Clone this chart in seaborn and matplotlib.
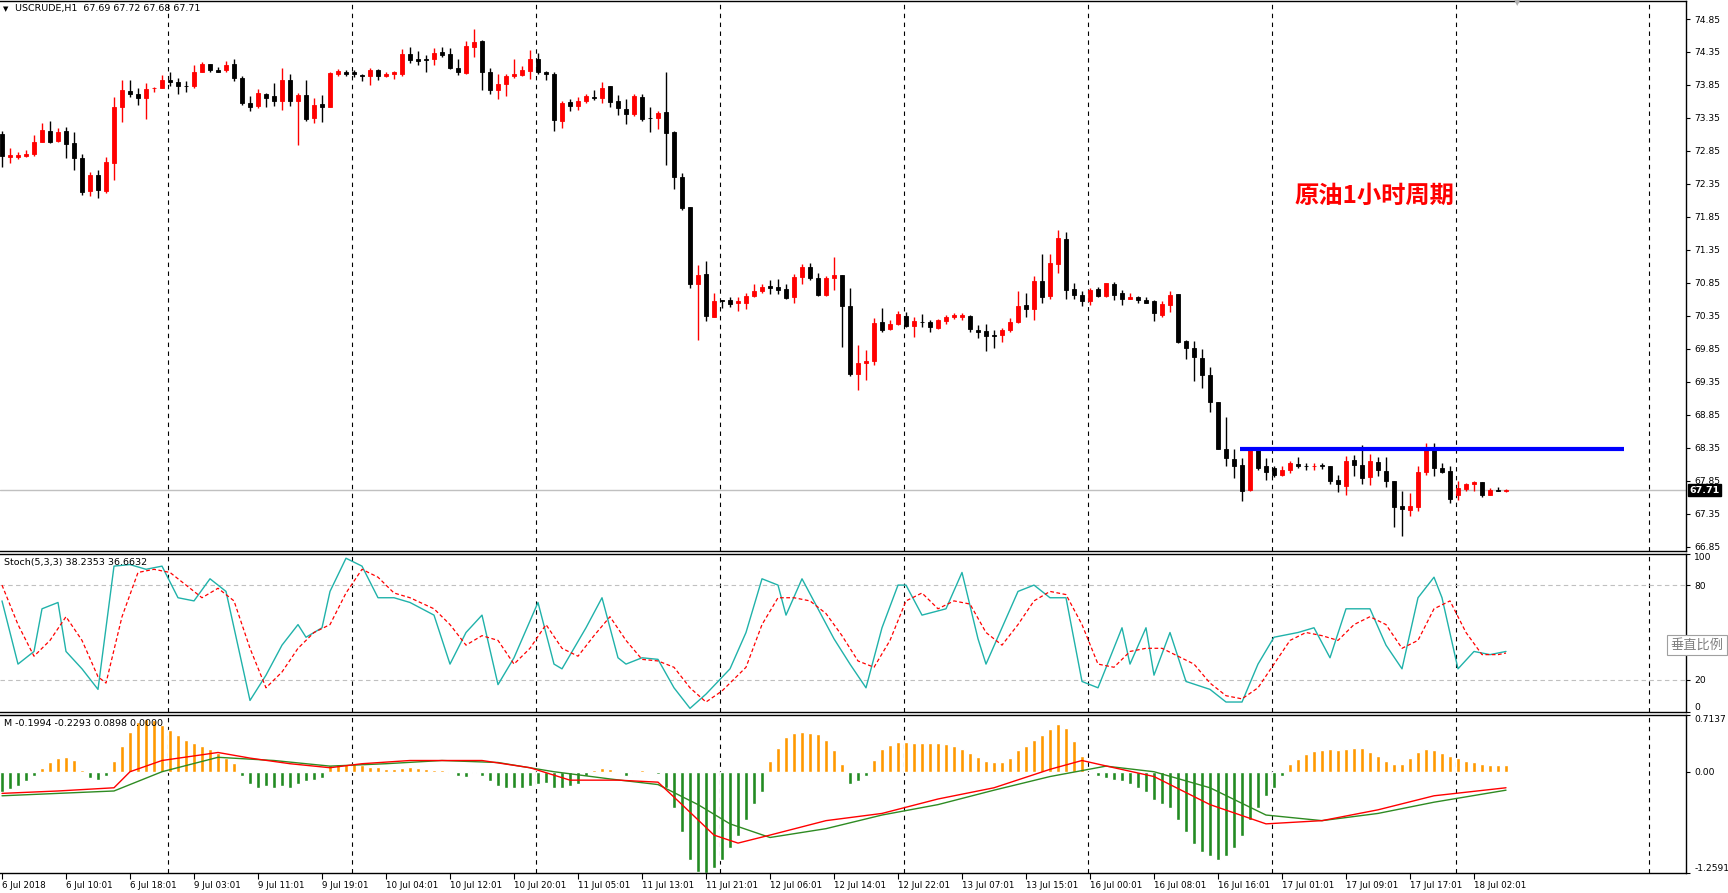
import numpy as np
import pandas as pd
import matplotlib
matplotlib.use("Agg")
import matplotlib.pyplot as plt
import seaborn as sns

# USCRUDE H1 candles, bar 0 = 6 Jul 2018 02:01 (one bar per hour)
opens = [73.10, 72.76, 72.76, 72.78, 72.80, 72.99, 73.15, 73.00, 73.15, 72.97,
         72.74, 72.24, 72.49, 72.24, 72.66, 73.51, 73.76, 73.71, 73.66, 73.80,
         73.81, 73.92, 73.90, 73.84, 73.83, 74.05, 74.17, 74.08, 74.07, 74.17,
         73.95, 73.57, 73.53, 73.71, 73.68, 73.61, 73.925, 73.60, 73.70, 73.35,
         73.56, 73.52, 74.01, 74.05, 74.04, 74.00, 73.98, 74.08, 73.98, 74.01,
         74.01, 74.32, 74.25, 74.24, 74.24, 74.35, 74.32, 74.10, 74.03, 74.43,
         74.52, 74.05, 73.77, 73.865, 73.98, 74.00, 74.06, 74.25, 74.05, 74.02,
         73.31, 73.59, 73.53, 73.60, 73.67, 73.66, 73.835, 73.61, 73.49, 73.41,
         73.67, 73.355, 73.35, 73.44, 73.14, 72.45, 71.996, 70.83, 70.98, 70.34,
         70.59, 70.59, 70.54, 70.55, 70.65, 70.73, 70.80, 70.79, 70.76, 70.64,
         70.94, 71.09, 70.93, 70.66, 70.93, 70.97, 70.50, 69.47, 69.64, 69.67,
         70.26, 70.15, 70.23, 70.35, 70.20, 70.26, 70.26, 70.17, 70.28, 70.34,
         70.335, 70.35, 70.14, 70.12, 70.06, 70.06, 70.13, 70.25, 70.51, 70.46,
         70.88, 70.65, 71.14, 71.51, 70.76, 70.67, 70.57, 70.76, 70.65, 70.83,
         70.69, 70.61, 70.64, 70.59, 70.58, 70.37, 70.52, 70.68, 69.97, 69.86,
         69.71, 69.46, 69.04, 68.34, 68.18, 68.09, 67.71, 68.34, 68.08, 68.05,
         67.94, 68.02, 68.11, 68.08, 68.07, 68.09, 68.08, 67.865, 67.775, 68.17,
         68.09, 67.915, 68.13, 68.00, 67.85, 67.47, 67.41, 67.46, 67.98, 68.355,
         68.05, 68.00, 67.64, 67.73, 67.795, 67.835, 67.64, 67.71, 67.69]
highs = [73.15, 72.89, 72.84, 72.87, 73.09, 73.27, 73.30, 73.20, 73.22, 73.13,
         72.81, 72.53, 72.56, 72.76, 73.67, 73.925, 73.92, 73.81, 73.88, 73.82,
         74.00, 74.04, 73.95, 73.91, 74.15, 74.20, 74.17, 74.13, 74.21, 74.24,
         73.98, 73.68, 73.79, 73.73, 73.88, 74.10, 74.02, 73.73, 73.925, 73.66,
         73.70, 74.05, 74.09, 74.08, 74.07, 74.02, 74.10, 74.09, 74.05, 74.06,
         74.40, 74.43, 74.365, 74.31, 74.41, 74.43, 74.41, 74.25, 74.52, 74.70,
         74.53, 74.10, 74.02, 74.02, 74.24, 74.14, 74.38, 74.33, 74.06, 74.04,
         73.60, 73.63, 73.67, 73.72, 73.77, 73.90, 73.835, 73.70, 73.63, 73.72,
         73.72, 73.51, 73.45, 74.05, 73.15, 72.52, 72.00, 71.12, 71.18, 70.70,
         70.59, 70.63, 70.64, 70.70, 70.835, 70.835, 70.90, 70.91, 70.835, 70.99,
         71.13, 71.15, 71.00, 70.96, 71.24, 70.97, 70.775, 69.91, 69.835, 70.32,
         70.47, 70.285, 70.42, 70.41, 70.34, 70.375, 70.295, 70.305, 70.37, 70.40,
         70.40, 70.37, 70.21, 70.23, 70.13, 70.17, 70.32, 70.73, 70.70, 70.95,
         71.29, 71.29, 71.65, 71.62, 70.85, 70.72, 70.77, 70.79, 70.855, 70.87,
         70.75, 70.69, 70.65, 70.63, 70.59, 70.58, 70.73, 70.68, 69.98, 69.97,
         69.85, 69.57, 69.05, 68.82, 68.33, 68.19, 68.345, 68.355, 68.19, 68.07,
         68.08, 68.15, 68.21, 68.12, 68.12, 68.12, 68.08, 67.94, 68.22, 68.24,
         68.39, 68.255, 68.21, 68.21, 67.85, 67.70, 67.66, 68.08, 68.42, 68.42,
         68.12, 68.07, 67.855, 67.815, 67.85, 67.835, 67.74, 67.76, 67.72]
lows = [72.61, 72.67, 72.73, 72.76, 72.77, 72.98, 72.97, 72.98, 72.75, 72.56,
        72.18, 72.16, 72.13, 72.21, 72.41, 73.29, 73.67, 73.55, 73.33, 73.75,
        73.80, 73.83, 73.71, 73.75, 73.81, 74.04, 74.04, 74.04, 74.04, 73.91,
        73.54, 73.45, 73.50, 73.52, 73.53, 73.47, 73.53, 72.94, 73.31, 73.28,
        73.29, 73.51, 73.99, 73.98, 73.97, 73.91, 73.85, 73.92, 73.97, 73.94,
        73.99, 74.19, 74.15, 74.05, 74.15, 74.27, 74.09, 74.00, 74.02, 74.28,
        73.77, 73.71, 73.64, 73.69, 73.95, 73.99, 73.94, 74.02, 73.93, 73.16,
        73.20, 73.46, 73.47, 73.57, 73.62, 73.57, 73.51, 73.40, 73.26, 73.38,
        73.30, 73.13, 73.18, 72.63, 72.28, 71.95, 70.78, 69.99, 70.28, 70.34,
        70.47, 70.49, 70.43, 70.46, 70.63, 70.70, 70.68, 70.68, 70.61, 70.54,
        70.835, 70.90, 70.65, 70.655, 70.745, 69.885, 69.44, 69.23, 69.38, 69.60,
        70.11, 70.13, 70.21, 70.18, 70.03, 70.18, 70.11, 70.15, 70.22, 70.30,
        70.29, 70.10, 70.02, 69.82, 69.87, 69.96, 70.11, 70.24, 70.335, 70.29,
        70.54, 70.60, 70.995, 70.61, 70.61, 70.50, 70.51, 70.64, 70.64, 70.59,
        70.52, 70.60, 70.55, 70.54, 70.275, 70.33, 70.41, 69.94, 69.70, 69.365,
        69.25, 68.89, 68.325, 68.08, 67.90, 67.55, 67.70, 68.01, 67.866, 67.915,
        67.93, 67.97, 68.04, 68.02, 68.01, 68.03, 67.805, 67.68, 67.63, 67.92,
        67.80, 67.79, 67.925, 67.755, 67.15, 67.01, 67.31, 67.40, 67.94, 67.93,
        67.97, 67.52, 67.56, 67.69, 67.70, 67.61, 67.64, 67.69, 67.68]
closes = [72.78, 72.79, 72.79, 72.80, 72.98, 73.17, 72.99, 73.14, 72.95, 72.75,
          72.23, 72.48, 72.26, 72.68, 73.52, 73.77, 73.72, 73.66, 73.79, 73.81,
          73.93, 73.90, 73.83, 73.83, 74.05, 74.17, 74.07, 74.05, 74.15, 73.96,
          73.58, 73.52, 73.73, 73.66, 73.60, 73.925, 73.60, 73.70, 73.34, 73.54,
          73.51, 74.03, 74.06, 74.01, 74.02, 73.99, 74.08, 73.98, 74.02, 74.04,
          74.32, 74.23, 74.21, 74.23, 74.33, 74.31, 74.10, 74.05, 74.44, 74.50,
          74.05, 73.77, 73.865, 73.99, 74.02, 74.08, 74.24, 74.04, 74.01, 73.325,
          73.577, 73.53, 73.60, 73.69, 73.66, 73.81, 73.59, 73.50, 73.41, 73.68,
          73.33, 73.345, 73.43, 73.12, 72.45, 71.99, 70.84, 70.97, 70.355, 70.58,
          70.58, 70.53, 70.57, 70.65, 70.73, 70.79, 70.78, 70.75, 70.62, 70.94,
          71.09, 70.92, 70.67, 70.93, 70.97, 70.50, 69.47, 69.64, 69.67, 70.245,
          70.14, 70.23, 70.38, 70.19, 70.275, 70.25, 70.18, 70.29, 70.335, 70.365,
          70.365, 70.15, 70.10, 70.04, 70.05, 70.13, 70.25, 70.50, 70.45, 70.88,
          70.64, 71.15, 71.53, 70.75, 70.67, 70.58, 70.74, 70.65, 70.845, 70.66,
          70.61, 70.64, 70.59, 70.55, 70.39, 70.53, 70.67, 69.96, 69.87, 69.72,
          69.46, 69.04, 68.34, 68.19, 68.07, 67.70, 68.33, 68.05, 67.98, 67.94,
          68.02, 68.12, 68.07, 68.07, 68.08, 68.07, 67.855, 67.795, 68.15, 68.09,
          67.90, 68.15, 68.01, 67.855, 67.46, 67.43, 67.47, 67.98, 68.355, 68.04,
          67.98, 67.58, 67.74, 67.805, 67.835, 67.64, 67.71, 67.69, 67.71]

# time axis labels, one every 8 bars
time_labels = ["6 Jul 2018", "6 Jul 10:01", "6 Jul 18:01", "9 Jul 03:01", "9 Jul 11:01",
               "9 Jul 19:01", "10 Jul 04:01", "10 Jul 12:01", "10 Jul 20:01", "11 Jul 05:01",
               "11 Jul 13:01", "11 Jul 21:01", "12 Jul 06:01", "12 Jul 14:01", "12 Jul 22:01",
               "13 Jul 07:01", "13 Jul 15:01", "16 Jul 00:01", "16 Jul 08:01", "16 Jul 16:01",
               "17 Jul 01:01", "17 Jul 09:01", "17 Jul 17:01", "18 Jul 02:01"]
price_ticks = [74.85, 74.35, 73.85, 73.35, 72.85, 72.35, 71.85, 71.35, 70.85,
               70.35, 69.85, 69.35, 68.85, 68.35, 67.85, 67.35, 66.85]
last_price = 67.71
resistance = 68.34
resistance_from, resistance_to = 154.75, 202.75

# Stoch(5,3,3): bar, %K / bar, %D
k_bar = [0, 2, 4, 5, 7, 8, 10, 12, 14, 16, 18, 20, 22, 24, 26, 28, 31, 33, 35, 37,
         38, 40, 41, 43, 45, 47, 49, 51, 54, 56, 58, 60, 62, 64, 67, 69, 70, 73, 75, 77,
         78, 80, 82, 84, 86, 88, 91, 93, 95, 97, 98, 100, 102, 104, 106, 108, 110, 112, 113, 115,
         118, 120, 122, 123, 125, 127, 129, 131, 133, 135, 137, 140, 141, 143, 144, 146, 148, 151, 153, 155,
         157, 159, 162, 164, 166, 168, 171, 173, 175, 177, 179, 180, 182, 184, 186, 188]
k_val = [70, 30, 38, 65, 69, 38, 27, 14, 92, 93, 90, 92, 72, 70, 84, 76, 7, 23, 42, 55,
         47, 53, 76, 97, 92, 72, 72, 69, 61, 30, 50, 61, 17, 34, 69, 30, 27, 53, 72, 34,
         30, 34, 33, 15, 2, 11, 27, 50, 84, 80, 61, 84, 65, 46, 30, 15, 53, 80, 80, 61,
         65, 88, 46, 30, 53, 76, 80, 72, 72, 19, 15, 53, 30, 53, 23, 50, 19, 14, 6, 6,
         30, 47, 50, 53, 34, 65, 65, 42, 27, 72, 85, 72, 27, 38, 36, 38]
d_bar = [0, 2, 4, 6, 8, 10, 12, 13, 15, 17, 19, 21, 23, 25, 27, 29, 31, 33, 35, 37,
         39, 41, 43, 45, 47, 49, 51, 54, 56, 58, 60, 62, 64, 66, 68, 70, 72, 74, 76, 78,
         80, 82, 84, 86, 88, 90, 93, 95, 97, 99, 101, 103, 105, 107, 109, 111, 113, 115, 117, 119,
         121, 123, 125, 127, 129, 131, 133, 135, 137, 139, 141, 143, 145, 147, 149, 151, 153, 155, 157, 159,
         161, 163, 165, 167, 169, 171, 173, 175, 177, 179, 181, 183, 185, 187, 188]
d_val = [80, 55, 35, 45, 60, 45, 22, 18, 60, 88, 90, 88, 80, 72, 78, 70, 40, 15, 25, 40,
         50, 55, 75, 90, 85, 75, 72, 65, 55, 42, 48, 45, 30, 40, 55, 40, 35, 48, 60, 45,
         33, 32, 28, 15, 6, 13, 28, 55, 72, 72, 70, 62, 48, 32, 28, 45, 70, 75, 65, 70,
         68, 50, 42, 55, 70, 76, 74, 55, 30, 28, 38, 40, 40, 35, 30, 18, 10, 8, 15, 30,
         45, 50, 48, 45, 55, 60, 55, 40, 45, 65, 70, 50, 36, 36, 37]

# MACD-type panel: histogram per bar, main (red) and signal (green) lines
hist = [-0.25, -0.22, -0.18, -0.12, -0.05,
        0.05, 0.12, 0.17, 0.18, 0.15,
        0.02, -0.08, -0.1, -0.05,
        0.13, 0.32, 0.5, 0.62, 0.66, 0.64, 0.58,
        0.52, 0.46, 0.4, 0.36, 0.32, 0.28, 0.23, 0.17, 0.11,
        -0.05, -0.15, -0.2, -0.18, -0.2, -0.18, -0.2, -0.15, -0.12, -0.1, -0.08,
        0.08, 0.1, 0.1, 0.1, 0.08, 0.06, 0.06, 0.04, 0.04, 0.05, 0.06, 0.05, 0.03, 0.02, 0.02, -0.01,
        -0.05, -0.06, -0.02, -0.05, -0.12, -0.18, -0.2, -0.2, -0.2, -0.18, -0.15, -0.14, -0.2, -0.2, -0.18, -0.15,
        -0.05, 0.02, 0.05, 0.03, -0.02, -0.05, -0.02, 0.02, 0.0, -0.03,
        -0.2, -0.45, -0.75, -1.1, -1.25, -1.26, -1.2, -1.1, -0.95, -0.8, -0.6, -0.4, -0.25,
        0.13, 0.3, 0.43, 0.48, 0.5, 0.48, 0.47, 0.4, 0.27, 0.1,
        -0.15, -0.12, -0.05,
        0.15, 0.28, 0.33, 0.37, 0.37, 0.36, 0.36, 0.36, 0.36, 0.35, 0.32, 0.28, 0.23, 0.18, 0.14, 0.12,
        0.12, 0.17, 0.27, 0.32, 0.4, 0.46, 0.53, 0.6, 0.55, 0.38, 0.2,
        -0.02, -0.05, -0.08, -0.1, -0.12, -0.15, -0.2, -0.25, -0.35, -0.4, -0.45, -0.6, -0.75,
        -0.9, -1.0, -1.05, -1.1, -1.05, -0.95, -0.8, -0.6, -0.45, -0.3, -0.2, -0.05,
        0.1, 0.16, 0.22, 0.26, 0.27, 0.28, 0.27, 0.28, 0.3, 0.29, 0.25, 0.2, 0.14, 0.1,
        0.1, 0.17, 0.25, 0.28, 0.27, 0.23, 0.19, 0.17, 0.14, 0.12, 0.1, 0.09, 0.09, 0.09]
main_bar = [0, 7, 14, 16, 20, 27, 31, 36, 41, 45, 51, 56, 60, 66, 71, 77, 82, 85, 89, 92,
            96, 103, 110, 117, 124, 131, 135, 139, 144, 151, 158, 165, 172, 179, 188]
main_val = [-0.27, -0.24, -0.20, 0.0, 0.14, 0.24, 0.17, 0.10, 0.05, 0.10, 0.14, 0.14, 0.14, 0.05,
            -0.105, -0.105, -0.13, -0.41, -0.79, -0.89, -0.79, -0.61, -0.52, -0.34, -0.20, 0.03,
            0.14, 0.05, -0.06, -0.41, -0.65, -0.61, -0.475, -0.30, -0.20]
sig_bar = [0, 7, 14, 20, 27, 34, 41, 48, 55, 62, 69, 76, 82, 87, 91, 96, 103, 110, 117, 124,
           131, 138, 144, 151, 158, 165, 172, 179, 188]
sig_val = [-0.30, -0.27, -0.24, 0.0, 0.18, 0.14, 0.07, 0.10, 0.14, 0.115, 0.0, -0.09, -0.16, -0.41,
           -0.65, -0.82, -0.71, -0.54, -0.41, -0.23, -0.06, 0.07, 0.0, -0.20, -0.54, -0.61, -0.52,
           -0.38, -0.23]

sns.set_theme(style="white")
plt.rcParams['font.family'] = ['DejaVu Sans', 'Noto Sans CJK SC']
plt.rcParams['axes.linewidth'] = 1.0

W, H = 1728, 893
fig = plt.figure(figsize=(W / 100, H / 100), dpi=100, facecolor="white")


def box(top, bottom):
    return [0, 1 - bottom / H, 1686 / W, (bottom - top) / H]


ax = fig.add_axes(box(1, 550.5))
ax_st = fig.add_axes(box(553.5, 711.5), sharex=ax)
ax_m = fig.add_axes(box(714.5, 872.7), sharex=ax)

df = pd.DataFrame({"o": opens, "h": highs, "l": lows, "c": closes})
df["bar"] = np.arange(len(df))
df["up"] = df["c"] >= df["o"]
col = np.where(df["up"], "#FF0000", "#000000")

# candles
ax.vlines(df["bar"], df["l"], df["h"], colors=col, linewidth=1.0, zorder=3)
body_lo = np.minimum(df["o"], df["c"])
body_h = np.abs(df["c"] - df["o"])
ax.bar(df["bar"], body_h, bottom=body_lo, width=0.62, color=col,
       edgecolor=col, linewidth=0.6, zorder=4)

ax.axhline(last_price, color="#C0C0C0", lw=1.0, zorder=1)
ax.hlines(resistance, resistance_from, resistance_to, color="#0000FF", lw=3.0, zorder=5)

ax.set_xlim(-0.25, 210.5)
ax.set_ylim(66.794, 75.123)

# vertical dashed grid (every 23 bars)
for g in [20.78, 43.8, 66.8, 89.8, 112.8, 135.8, 158.8, 181.8, 205.84]:
    for a in (ax, ax_st, ax_m):
        a.axvline(g, color="black", lw=0.8, ls=(0, (4, 4)), zorder=0)

# stochastic panel
sns.lineplot(x=k_bar, y=k_val, ax=ax_st, color="#20B2AA", lw=1.0, zorder=3)
sns.lineplot(x=d_bar, y=d_val, ax=ax_st, color="#FF0000", lw=0.9, zorder=4)
ax_st.lines[-1].set_linestyle((0, (3, 2)))
for lv in (80, 20):
    ax_st.axhline(lv, color="#C0C0C0", lw=0.8, ls=(0, (4, 3)), zorder=1)
ax_st.set_ylim(0, 100)

# MACD panel
hb = np.arange(len(hist))
hv = np.array(hist)
ax_m.bar(hb, hv, width=0.42, color=np.where(hv >= 0, "#FF9900", "#228B22"), zorder=2)
sns.lineplot(x=main_bar, y=main_val, ax=ax_m, color="#FF0000", lw=1.0, zorder=4)
sns.lineplot(x=sig_bar, y=sig_val, ax=ax_m, color="#2E8B22", lw=1.0, zorder=3)
ax_m.set_ylim(-1.2591, 0.7137)

for a in (ax, ax_st, ax_m):
    a.set_facecolor("white")
    a.spines["left"].set_visible(False)
    for s in ("top", "right", "bottom"):
        a.spines[s].set_color("black")
        a.spines[s].set_linewidth(1.0)
    a.set_xlabel("")
    a.set_ylabel("")
    a.yaxis.tick_right()
    a.tick_params(axis="y", direction="out", length=3, width=0.8, pad=3,
                  labelsize=6.6, colors="black")
    a.tick_params(axis="x", bottom=False, labelbottom=False)

ax.set_yticks(price_ticks)
ax.set_yticklabels([f"{v:.2f}" for v in price_ticks])

ax_st.set_yticks([100, 80, 20, 0])
ax_st.set_yticklabels(["100", "80", "20", "0"])
for t in ax_st.get_yticklabels():
    if t.get_text() == "100":
        t.set_va("top")
    elif t.get_text() == "0":
        t.set_va("bottom")

ax_m.set_yticks([0.7137, 0.0, -1.2591])
ax_m.set_yticklabels(["0.7137", "0.00", "-1.2591"])
tl = ax_m.get_yticklabels()
tl[0].set_va("top")
tl[2].set_va("bottom")

ax_m.set_xticks(np.arange(len(time_labels)) * 8)
ax_m.set_xticklabels(time_labels, ha="left")
ax_m.tick_params(axis="x", bottom=True, labelbottom=True, direction="out", length=4,
                 width=0.8, pad=2, labelsize=6.3, colors="black")
ax_m.set_xlim(-0.25, 210.5)

# last price tag on the scale
ax.text(1.002, last_price, f"{last_price:.2f}", transform=ax.get_yaxis_transform(),
        ha="left", va="center", fontsize=6.8, color="white", fontweight="bold",
        bbox=dict(boxstyle="square,pad=0.15", fc="black", ec="black"), clip_on=False, zorder=10)

# panel captions
fig.text(3 / W, 1 - 9 / H, "▼", fontsize=5, color="black", va="center")
fig.text(15 / W, 1 - 9 / H, "USCRUDE,H1  67.69 67.72 67.68 67.71", fontsize=6.8,
         color="black", va="center")
fig.text(4 / W, 1 - 563 / H, "Stoch(5,3,3) 38.2353 36.6632", fontsize=6.8,
         color="black", va="center")
fig.text(4 / W, 1 - 724 / H, "M -0.1994 -0.2293 0.0898 0.0000", fontsize=6.8,
         color="black", va="center")

fig.text(1374 / W, 1 - 196 / H, "原油1小时周期", fontsize=17.5, color="#FF0000",
         fontweight="bold", family="Noto Sans CJK SC", ha="center", va="center")

fig.text(1697 / W, 1 - 645 / H, "垂直比例", fontsize=9.5, color="#808080",
         family="Noto Sans CJK SC", ha="center", va="center",
         bbox=dict(boxstyle="square,pad=0.3", fc="white", ec="#A0A0A0", lw=0.8))

fig.text(1517 / W, 1 - 3 / H, "▼", fontsize=6, color="#B0B0B0", ha="center", va="center")

fig.savefig("out.png", dpi=100, facecolor="white")
